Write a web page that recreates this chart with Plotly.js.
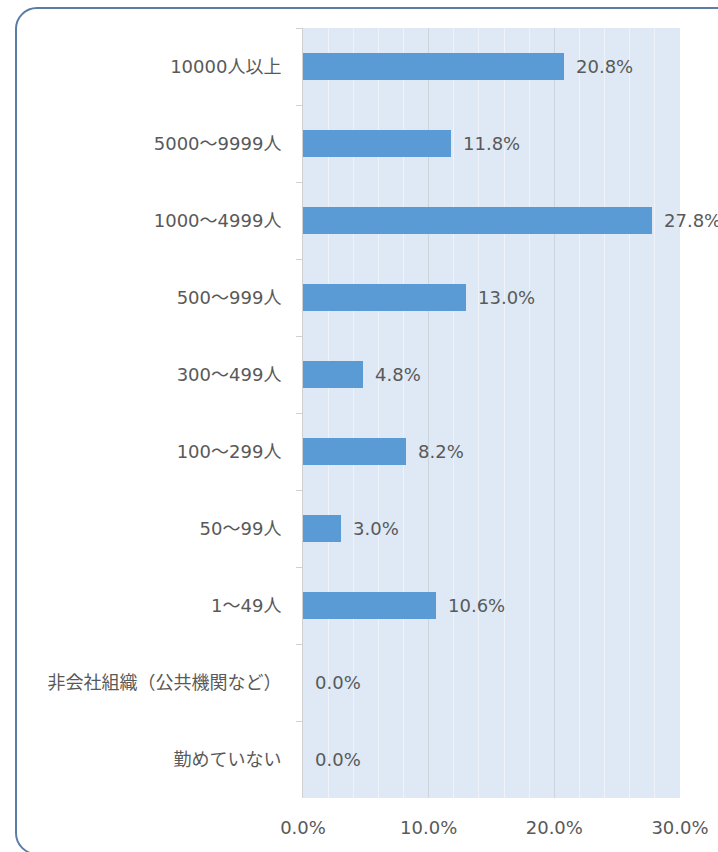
<!DOCTYPE html>
<html>
<head>
<meta charset="utf-8">
<script src="https://cdn.plot.ly/plotly-3.0.1.min.js"></script>
<style>
  html, body { margin: 0; padding: 0; background: #ffffff; width: 718px; height: 852px; overflow: hidden; }
  #frame { position: absolute; left: 15px; top: 7px; width: 760px; height: 848px; border: 2px solid #5a7da6; border-radius: 22px; box-sizing: border-box; }
  #chart { position: absolute; left: 0; top: 0; width: 718px; height: 852px; }
</style>
</head>
<body>
<div id="frame"></div>
<div id="chart"></div>
<script>
const categories = ["10000人以上", "5000～9999人", "1000～4999人", "500～999人", "300～499人", "100～299人", "50～99人", "1～49人", "非会社組織（公共機関など）", "勤めていない"];
const values = [20.8, 11.8, 27.8, 13.0, 4.8, 8.2, 3.0, 10.6, 0.0, 0.0];
const xTickVals = [0, 10, 20, 30];
const xTickText = ["0.0%", "10.0%", "20.0%", "30.0%"];

const fontFamily = "DejaVu Sans, Noto Sans CJK JP, sans-serif";
const textColor = "#595959";

const trace = {
  type: "bar",
  orientation: "h",
  x: values,
  y: categories,
  width: 0.35,
  marker: { color: "#5b9bd5", line: { width: 0 } },
  hoverinfo: "skip"
};

const annotations = values.map((v, i) => ({
  x: v,
  y: categories[i],
  xref: "x",
  yref: "y",
  text: v.toFixed(1) + "%",
  showarrow: false,
  xanchor: "left",
  yanchor: "middle",
  xshift: 10,
  font: { family: fontFamily, size: 18, color: textColor }
}));

const layout = {
  width: 718,
  height: 852,
  margin: { l: 303, r: 38, t: 28, b: 54 },
  paper_bgcolor: "rgba(0,0,0,0)",
  plot_bgcolor: "#dee9f5",
  showlegend: false,
  bargap: 0,
  font: { family: fontFamily, size: 18, color: textColor },
  xaxis: {
    range: [0, 30],
    tickvals: xTickVals,
    ticktext: xTickText,
    showgrid: true,
    gridcolor: "#ccd4dc",
    gridwidth: 1,
    minor: { dtick: 2, showgrid: true, gridcolor: "#eef3f9", gridwidth: 1 },
    zeroline: false,
    showline: false,
    ticks: "",
    ticklabelstandoff: 17,
    tickfont: { family: fontFamily, size: 18, color: textColor },
    fixedrange: true
  },
  yaxis: {
    type: "category",
    categoryorder: "array",
    categoryarray: categories,
    autorange: "reversed",
    showgrid: false,
    zeroline: false,
    showline: true,
    linecolor: "#d0d0d0",
    linewidth: 1,
    ticks: "outside",
    tickson: "boundaries",
    ticklen: 6,
    tickcolor: "#d0d0d0",
    ticklabelstandoff: 17,
    tickfont: { family: fontFamily, size: 18, color: textColor },
    fixedrange: true
  },
  annotations: annotations
};

Plotly.newPlot("chart", [trace], layout, { displayModeBar: false, staticPlot: true });
</script>
</body>
</html>
